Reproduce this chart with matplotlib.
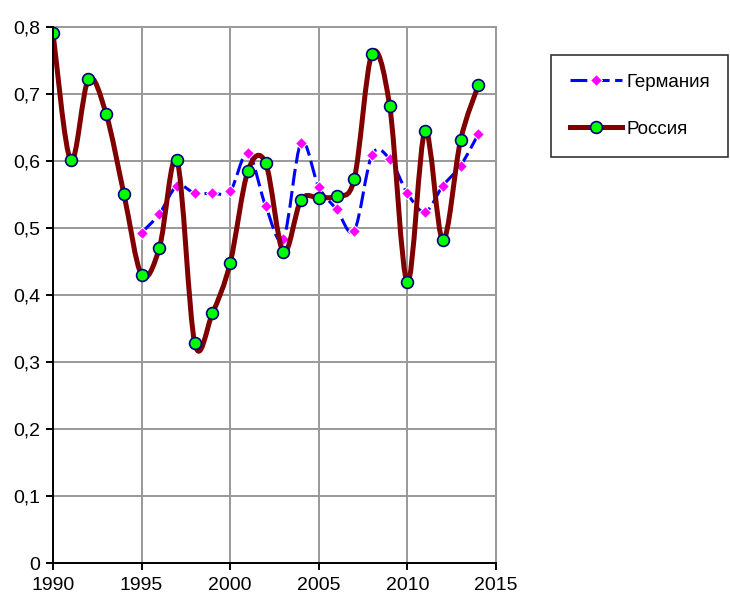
import numpy as np
import matplotlib
matplotlib.use('Agg')
import matplotlib.pyplot as plt
from matplotlib.path import Path
from matplotlib.patches import PathPatch
from matplotlib.lines import Line2D
from matplotlib.ticker import FuncFormatter

plt.rcParams['font.family'] = ['Liberation Sans', 'DejaVu Sans']

years_ru = list(range(1990, 2015))
russia = [0.791, 0.601, 0.722, 0.670, 0.551, 0.430, 0.470, 0.601, 0.328, 0.373,
          0.448, 0.585, 0.597, 0.464, 0.542, 0.545, 0.548, 0.573, 0.760, 0.682,
          0.419, 0.645, 0.482, 0.631, 0.713]

years_de = list(range(1995, 2015))
germany = [0.493, 0.521, 0.563, 0.552, 0.552, 0.555, 0.612, 0.533, 0.484, 0.627,
           0.561, 0.528, 0.496, 0.609, 0.603, 0.552, 0.524, 0.563, 0.593, 0.640]

x_ticks = [1990, 1995, 2000, 2005, 2010, 2015]
y_ticks = [0, 0.1, 0.2, 0.3, 0.4, 0.5, 0.6, 0.7, 0.8]


def smooth_path(x, y):
    # Excel-like smoothed line: Catmull-Rom segments as cubic Bezier curves
    p = np.column_stack([x, y]).astype(float)
    n = len(p)
    verts = [p[0]]
    codes = [Path.MOVETO]
    for i in range(n - 1):
        p0 = p[i - 1] if i > 0 else p[i]
        p3 = p[i + 2] if i + 2 < n else p[i + 1]
        c1 = p[i] + (p[i + 1] - p0) / 6
        c2 = p[i + 1] - (p3 - p[i]) / 6
        verts += [c1, c2, p[i + 1]]
        codes += [Path.CURVE4] * 3
    return Path(verts, codes)


fig = plt.figure(figsize=(7.3, 5.99), dpi=100)
ax = fig.add_axes([53 / 730, 36 / 599, 443 / 730, 536 / 599])

de_color = '#0000FF'
ru_color = '#800000'
de_dash = (0, (5.5, 1.8))

ax.add_patch(PathPatch(smooth_path(years_de, germany), fill=False, edgecolor=de_color,
                       lw=2.2, linestyle=de_dash, zorder=3, capstyle='butt'))
ax.plot(years_de, germany, linestyle='none', marker='D', markersize=6,
        markerfacecolor='#FF00FF', markeredgecolor='white', markeredgewidth=0.8, zorder=4)

ax.add_patch(PathPatch(smooth_path(years_ru, russia), fill=False, edgecolor=ru_color,
                       lw=3.6, zorder=5, joinstyle='round', capstyle='round'))
ax.plot(years_ru, russia, linestyle='none', marker='o', markersize=8.5,
        markerfacecolor='#00FF00', markeredgecolor='#000080', markeredgewidth=1.2, zorder=6)

ax.set_xlim(1990, 2015)
ax.set_ylim(0, 0.8)
ax.set_xticks(x_ticks)
ax.set_yticks(y_ticks)
ax.yaxis.set_major_formatter(FuncFormatter(lambda v, p: '0' if v == 0 else f'{v:.1f}'.replace('.', ',')))
ax.grid(True, color='#999999', lw=1.4)
ax.set_axisbelow(True)
for s in ['top', 'right']:
    ax.spines[s].set_color('#999999')
    ax.spines[s].set_linewidth(1.4)
for s in ['left', 'bottom']:
    ax.spines[s].set_color('black')
    ax.spines[s].set_linewidth(1.4)
    ax.spines[s].set_zorder(7)
ax.tick_params(direction='out', length=5, width=1.4, labelsize=14, colors='black')
ax.tick_params(axis='y', pad=4)
ax.tick_params(axis='x', pad=5)

handles = [
    Line2D([], [], color=de_color, lw=2.2, linestyle=de_dash, marker='D', markersize=6,
           markerfacecolor='#FF00FF', markeredgecolor='white', markeredgewidth=0.8),
    Line2D([], [], color=ru_color, lw=3.6, marker='o', markersize=8.5,
           markerfacecolor='#00FF00', markeredgecolor='#000080', markeredgewidth=1.2),
]
leg = fig.legend(handles, ['Германия', 'Россия'], loc='upper left',
                 bbox_to_anchor=(551 / 730, 1 - 55 / 599), fontsize=13.5,
                 frameon=True, fancybox=False, edgecolor='black', borderpad=1.0,
                 labelspacing=1.6, handlelength=2.8, handletextpad=0.2, borderaxespad=0)
leg.get_frame().set_linewidth(1.2)

fig.savefig('out.png', dpi=100)
